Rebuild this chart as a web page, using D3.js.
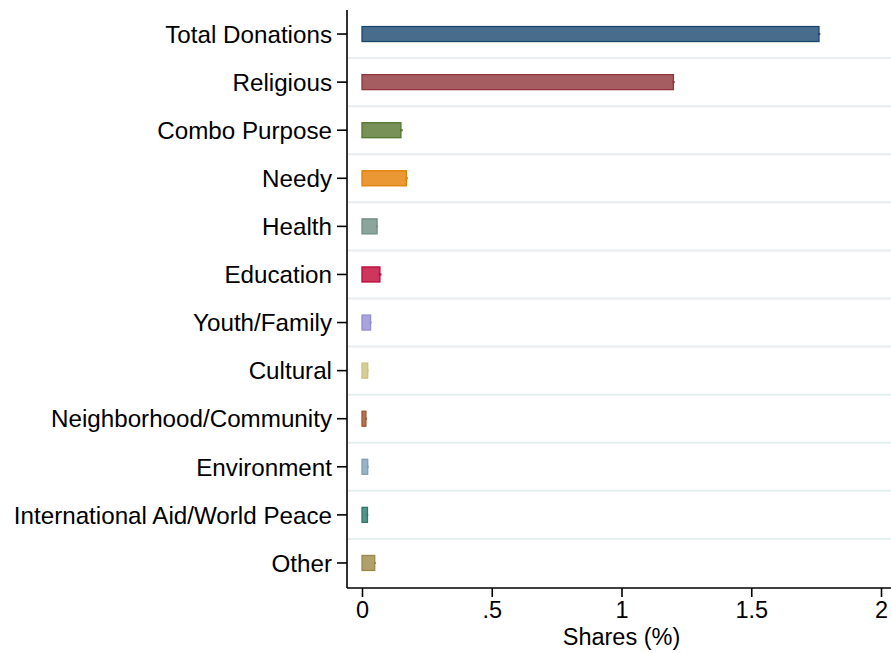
<!DOCTYPE html>
<html>
<head>
<meta charset="utf-8">
<script src="https://cdn.jsdelivr.net/npm/d3@7"></script>
<style>
  body { margin: 0; background: #fff; }
  text { font-family: "Liberation Sans", Arial, sans-serif; fill: #000; }
</style>
</head>
<body>
<div id="chart"></div>
<script>
// categories, top to bottom
var categories = ["Total Donations", "Religious", "Combo Purpose", "Needy", "Health", "Education",
    "Youth/Family", "Cultural", "Neighborhood/Community", "Environment",
    "International Aid/World Peace", "Other"];
// mean shares (%)
var shares = [1.761, 1.200, 0.150, 0.171, 0.058, 0.069, 0.033, 0.022, 0.015, 0.022, 0.021, 0.049];
// confidence interval, low / high
var ciLow = [1.757, 1.196, 0.146, 0.166, 0.054, 0.064, 0.029, 0.018, 0.012, 0.018, 0.017, 0.045];
var ciHigh = [1.766, 1.205, 0.157, 0.177, 0.062, 0.075, 0.037, 0.026, 0.019, 0.026, 0.024, 0.054];
var xTicks = [0, 0.5, 1, 1.5, 2];
var xTickLabels = ["0", ".5", "1", "1.5", "2"];
var colors = ["#1a476f", "#90353b", "#55752f", "#e37e00", "#6e8e84", "#c10534",
    "#938dd2", "#cac27e", "#a0522d", "#7ea0b7", "#2a7a6c", "#9c8847"];

var data = categories.map(function(c, i) {
    return {name: c, value: shares[i], lo: ciLow[i], hi: ciHigh[i], color: colors[i]};
});

var width = 891, height = 653;
var plot = {left: 347, right: 891, top: 10, bottom: 588};

var svg = d3.select("#chart").append("svg")
    .attr("width", width)
    .attr("height", height);

var x = d3.scaleLinear().domain([0, 2]).range([362, 881]);
var y = d3.scaleBand().domain(categories).range([plot.top, plot.bottom - 1]);

// gridlines between categories
svg.append("g").selectAll("line")
    .data(categories.slice(1))
    .enter().append("line")
    .attr("x1", plot.left + 1).attr("x2", plot.right)
    .attr("y1", function(d) { return y(d); })
    .attr("y2", function(d) { return y(d); })
    .attr("stroke", "#e6eef0")
    .attr("stroke-width", 2);

var barH = 15;

// bars
var bars = svg.append("g").selectAll("g")
    .data(data)
    .enter().append("g");

bars.append("rect")
    .attr("x", x(0))
    .attr("y", function(d) { return y(d.name) + y.bandwidth() / 2 - barH / 2; })
    .attr("width", function(d) { return x(d.value) - x(0); })
    .attr("height", barH)
    .attr("fill", function(d) { return d.color; })
    .attr("fill-opacity", 0.8)
    .attr("stroke", function(d) { return d.color; })
    .attr("stroke-width", 1.3);

// confidence intervals
bars.append("line")
    .attr("x1", function(d) { return x(d.lo); })
    .attr("x2", function(d) { return x(d.hi); })
    .attr("y1", function(d) { return y(d.name) + y.bandwidth() / 2; })
    .attr("y2", function(d) { return y(d.name) + y.bandwidth() / 2; })
    .attr("stroke", function(d) { return d.color; })
    .attr("stroke-width", 2);

// y axis
var yAxis = svg.append("g")
    .attr("transform", "translate(" + plot.left + ",0)")
    .call(d3.axisLeft(y).tickSize(10).tickPadding(5));
yAxis.select(".domain").attr("d", "M0," + plot.top + "V" + plot.bottom)
    .attr("stroke", "#000").attr("stroke-width", 1.6);
yAxis.selectAll(".tick line").attr("stroke", "#000").attr("stroke-width", 1.6);
yAxis.selectAll(".tick text")
    .style("font-size", "24.2px")
    .attr("dy", "0.36em");

// x axis
var xAxis = svg.append("g")
    .attr("transform", "translate(0," + plot.bottom + ")")
    .call(d3.axisBottom(x).tickValues(xTicks)
        .tickFormat(function(d, i) { return xTickLabels[i]; })
        .tickSize(9).tickPadding(4));
xAxis.select(".domain").attr("d", "M" + plot.left + ",0H" + plot.right)
    .attr("stroke", "#000").attr("stroke-width", 1.6);
xAxis.selectAll(".tick line").attr("stroke", "#000").attr("stroke-width", 1.6);
xAxis.selectAll(".tick text").style("font-size", "23.5px");

svg.append("text")
    .attr("x", x(1))
    .attr("y", 645)
    .attr("text-anchor", "middle")
    .style("font-size", "23.5px")
    .text("Shares (%)");
</script>
</body>
</html>
